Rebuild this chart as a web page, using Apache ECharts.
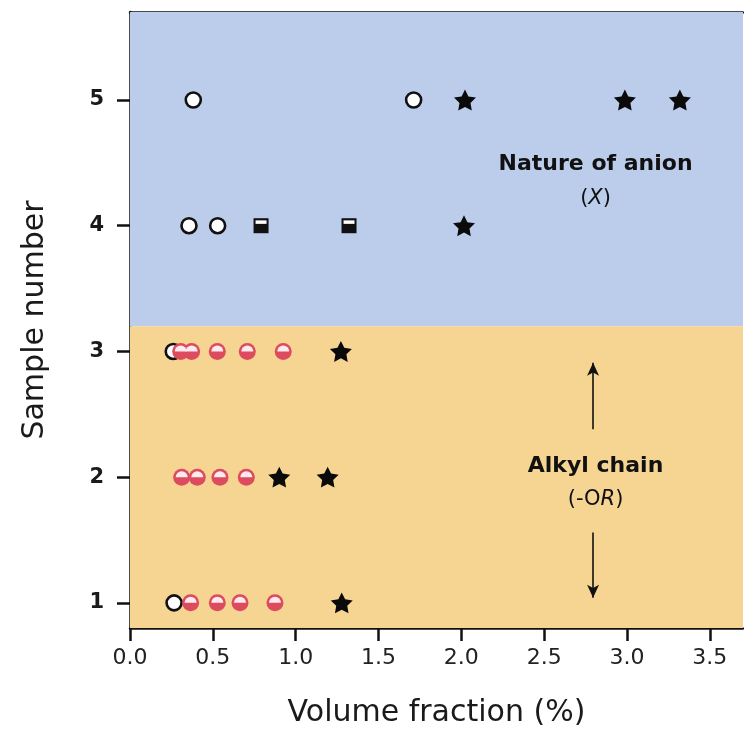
<!DOCTYPE html>
<html>
<head>
<meta charset="utf-8">
<script src="https://cdn.jsdelivr.net/npm/echarts@6/dist/echarts.min.js"></script>
<style>html,body{margin:0;padding:0;background:#fff}#c{width:744px;height:733px}</style>
</head>
<body>
<div id="c"></div>
<script>
// ---- data: [volume fraction (%), sample number] ----
const openCircles = [[0.382,5],[1.712,5],[0.356,4],[0.529,4],[0.261,3],[0.266,1]];
const halfSquares = [[0.791,4],[1.322,4]];
const pinkCircles = [[0.306,3],[0.372,3],[0.527,3],[0.708,3],[0.925,3],
                     [0.312,2],[0.406,2],[0.543,2],[0.702,2],
                     [0.366,1],[0.527,1],[0.664,1],[0.875,1]];
const stars = [[2.022,5],[2.987,5],[3.319,5],[2.016,4],[1.273,3],[0.901,2],[1.193,2],[1.278,1]];
const xTicks = [0, 0.5, 1.0, 1.5, 2.0, 2.5, 3.0, 3.5];
const yTicks = [1, 2, 3, 4, 5];
const regionAnion = [3.2, 5.7];
const regionAlkyl = [0.8, 3.2];
const annotations = [
  [2.81, 4.49, '{b|Nature of anion}'],
  [2.81, 4.22, '{n|(}{i|X}{n|)}'],
  [2.81, 2.09, '{b|Alkyl chain}'],
  [2.81, 1.82, '{n|(-O}{i|R}{n|)}']
];
const arrows = [[[2.795, 2.38],[2.795, 2.91]], [[2.795, 1.56],[2.795, 1.04]]];

const FONT = 'DejaVu Sans';
const STAR = 'path://M0,-10L2.94,-4.05L9.51,-3.09L4.76,1.55L5.88,8.09L0,5L-5.88,8.09L-4.76,1.55L-9.51,-3.09L-2.94,-4.05Z';
const DOME = 'path://M-1,0A1,1 0 0 1 1,0Z';

const chart = echarts.init(document.getElementById('c'), null, {renderer: 'canvas'});
const axisLine = {show: true, lineStyle: {color: '#111', width: 2.5}};
chart.setOption({
  animation: false,
  backgroundColor: '#ffffff',
  grid: {left: 130, top: 12, right: 1, bottom: 102, containLabel: false},
  xAxis: [{
    type: 'value', min: 0, max: 3.7, position: 'bottom',
    axisLine: axisLine,
    axisTick: {show: true, inside: false, length: 13, lineStyle: {color: '#111', width: 2.5}, customValues: xTicks},
    axisLabel: {customValues: xTicks, formatter: v => v.toFixed(1), fontFamily: FONT, fontSize: 22, color: '#222', margin: 19},
    splitLine: {show: false},
    name: 'Volume fraction (%)', nameLocation: 'middle', nameGap: 70,
    nameTextStyle: {fontFamily: FONT, fontSize: 30, color: '#1a1a1a'}
  }, {
    type: 'value', min: 0, max: 3.7, position: 'top',
    axisLine: axisLine, axisTick: {show: false}, axisLabel: {show: false}, splitLine: {show: false}
  }],
  yAxis: {
    type: 'value', min: 0.8, max: 5.7, position: 'left',
    axisLine: axisLine,
    axisTick: {show: true, inside: false, length: 13, lineStyle: {color: '#111', width: 2.5}, customValues: yTicks},
    axisLabel: {customValues: yTicks, fontFamily: FONT, fontWeight: 'bold', fontSize: 21, color: '#1a1a1a', margin: 26},
    splitLine: {show: false},
    name: 'Sample number', nameLocation: 'middle', nameGap: 80, nameRotate: 90,
    nameTextStyle: {fontFamily: FONT, fontSize: 30, color: '#1a1a1a'}
  },
  series: [
    {
      name: 'background', type: 'scatter', data: [], silent: true,
      markArea: {
        silent: true,
        data: [
          [{yAxis: regionAnion[0], itemStyle: {color: '#bccdec', opacity: 1}}, {yAxis: regionAnion[1]}],
          [{yAxis: regionAlkyl[0], itemStyle: {color: '#f6d492', opacity: 1}}, {yAxis: regionAlkyl[1]}]
        ]
      }
    },
    {
      name: 'open', type: 'scatter', data: openCircles, symbol: 'circle', symbolSize: 15,
      itemStyle: {color: '#ffffff', borderColor: '#111', borderWidth: 2.6, opacity: 1}
    },
    {
      name: 'square', type: 'scatter', data: halfSquares, symbol: 'rect', symbolSize: 15,
      itemStyle: {color: '#111', opacity: 1}
    },
    {
      name: 'square-band', type: 'scatter', data: halfSquares, symbol: 'rect', symbolSize: [11, 3.5], symbolOffset: [0, -3.6],
      silent: true, itemStyle: {color: '#ffffff', opacity: 1}
    },
    {
      name: 'pink', type: 'scatter', data: pinkCircles, symbol: 'circle', symbolSize: 17,
      itemStyle: {color: '#dc4b5e', opacity: 1}
    },
    {
      name: 'pink-dome', type: 'scatter', data: pinkCircles, symbol: DOME, symbolSize: [12, 6], symbolOffset: [0, -3],
      silent: true, itemStyle: {color: '#fceaee', opacity: 1}
    },
    {
      name: 'star', type: 'scatter', data: stars, symbol: STAR, symbolSize: 22, symbolKeepAspect: true,
      itemStyle: {color: '#0a0a0a', opacity: 1}
    },
    {
      name: 'annotations', type: 'scatter', silent: true, symbolSize: 0,
      itemStyle: {opacity: 1},
      data: annotations.map(a => ({value: [a[0], a[1]], text: a[2]})),
      label: {
        show: true, position: 'inside', formatter: p => p.data.text, opacity: 1,
        rich: {
          b: {fontFamily: FONT, fontWeight: 'bold', fontSize: 22, color: '#111'},
          n: {fontFamily: FONT, fontSize: 21, color: '#111'},
          i: {fontFamily: FONT, fontStyle: 'italic', fontSize: 21, color: '#111'}
        }
      },
      markLine: {
        silent: true, symbol: ['none', 'arrow'], symbolSize: [9, 13],
        label: {show: false},
        lineStyle: {color: '#111', width: 1.6, type: 'solid', opacity: 1},
        data: arrows.map(a => [{coord: a[0]}, {coord: a[1]}])
      }
    }
  ]
});
</script>
</body>
</html>
